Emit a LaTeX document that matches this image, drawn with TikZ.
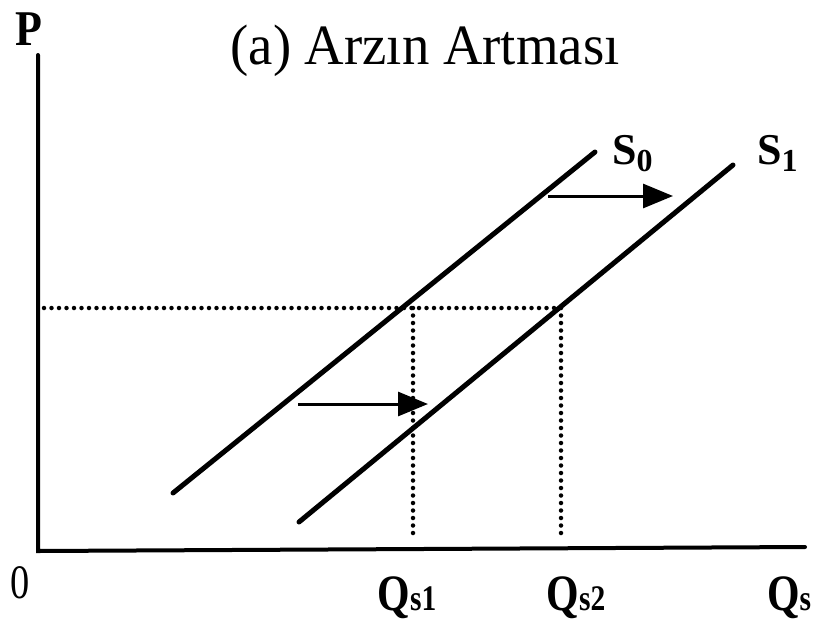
\documentclass[tikz,border=0pt]{standalone}
\usepackage{graphicx}
\usepackage{fontspec}
\setmainfont{Liberation Serif}
\usetikzlibrary{arrows.meta}
\newcommand{\qlab}[1]{\scalebox{0.82}[1]{\fontsize{51}{51}\selectfont\bfseries Q\fontsize{36}{36}\selectfont #1}}
\newcommand{\slab}[1]{\fontsize{44}{44}\selectfont\bfseries S\raisebox{-7pt}{\fontsize{32}{32}\selectfont #1}}
\begin{document}
\begin{tikzpicture}[x=1pt,y=-1pt,
  axisline/.style={line width=4pt, line cap=round},
  supply/.style={line width=5pt, line cap=round},
  guide/.style={line width=4.5pt, line cap=round, dash pattern=on 0pt off 7.5pt},
  shiftarrow/.style={line width=3pt, -{Triangle[length=30pt,width=24pt]}},
  lbl/.style={anchor=base, inner sep=0pt},
  titlestyle/.style={font=\fontsize{57}{57}\selectfont, anchor=base, inner sep=0pt}]
\useasboundingbox (0,0) rectangle (813,622);
\fill[white] (0,0) rectangle (813,622);
% axes
\coordinate (ytop) at (38,55);
\coordinate (origin) at (38,551);
\coordinate (xend) at (805,547);
\draw[axisline] (ytop) -- (origin) -- (xend);
% supply curves
\coordinate (s0a) at (173,493);
\coordinate (s0b) at (595,152);
\coordinate (s1a) at (299,522);
\coordinate (s1b) at (733,165);
\draw[supply] (s0a) -- (s0b);
\draw[supply] (s1a) -- (s1b);
% guides
\coordinate (hstart) at (44,308);
\coordinate (e0) at (413,308);
\coordinate (e1) at (561,308);
\coordinate (q1) at (413,538);
\coordinate (q2) at (561,538);
\draw[guide] (hstart) -- (e1);
\draw[guide] (e0) -- (q1);
\draw[guide] (e1) -- (q2);
% shift arrows
\coordinate (a1s) at (298,404);
\coordinate (a1e) at (428,404);
\coordinate (a2s) at (548,196);
\coordinate (a2e) at (673,196);
\draw[shiftarrow] (a1s) -- (a1e);
\draw[shiftarrow] (a2s) -- (a2e);
% labels
\node[titlestyle] (title) at (425,64) {\scalebox{0.96}[1]{(a) Arzın Artması}};
\node[lbl, font=\fontsize{50}{50}\selectfont\bfseries] (P) at (29,45) {\scalebox{0.88}[1]{P}};
\node[lbl, font=\fontsize{48}{48}\selectfont] (zero) at (20,598) {\scalebox{0.8}[1]{0}};
\node[lbl] (Qs1) at (407,610) {\qlab{s1}};
\node[lbl] (Qs2) at (576,610) {\qlab{s2}};
\node[lbl] (Qs) at (789,610) {\qlab{s}};
\node[lbl, anchor=base west] (S0) at (612,164) {\slab{0}};
\node[lbl, anchor=base west] (S1) at (757,164) {\slab{1}};
\end{tikzpicture}
\end{document}
